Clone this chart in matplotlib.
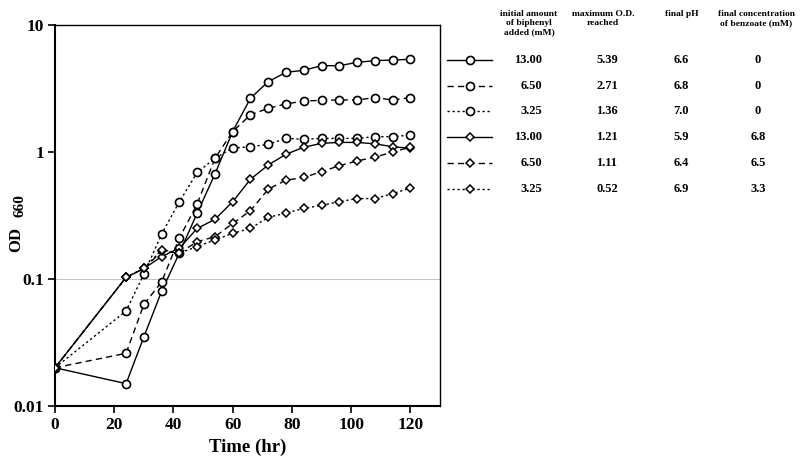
import matplotlib
matplotlib.use("Agg")
import matplotlib.pyplot as plt
from matplotlib.lines import Line2D

# ---------------- data ----------------
times = [0, 24, 30, 36, 42, 48, 54, 60, 66, 72, 78, 84, 90, 96, 102, 108, 114, 120]

circ_1300 = [0.020, 0.015, 0.035, 0.080, 0.16, 0.33, 0.67, 1.45, 2.65, 3.58, 4.24, 4.40,
             4.78, 4.78, 5.08, 5.24, 5.30, 5.37]
circ_650 = [0.020, 0.026, 0.063, 0.095, 0.21, 0.39, 0.89, 1.45, 1.96, 2.21, 2.39, 2.52,
            2.55, 2.57, 2.57, 2.68, 2.57, 2.68]
circ_325 = [0.020, 0.056, 0.109, 0.226, 0.406, 0.69, 0.89, 1.075, 1.10, 1.15, 1.28, 1.26,
            1.28, 1.28, 1.28, 1.32, 1.32, 1.36]
diam_1300 = [0.020, 0.103, 0.121, 0.150, 0.175, 0.25, 0.295, 0.406, 0.61, 0.79, 0.96, 1.09,
             1.17, 1.19, 1.19, 1.16, 1.10, 1.07]
diam_650 = [0.020, 0.103, 0.121, 0.165, 0.160, 0.197, 0.215, 0.274, 0.345, 0.51, 0.60, 0.63,
            0.70, 0.78, 0.85, 0.91, 1.00, 1.09]
diam_325 = [0.020, 0.103, 0.121, 0.170, 0.160, 0.180, 0.203, 0.229, 0.25, 0.306, 0.33, 0.36,
            0.38, 0.406, 0.43, 0.43, 0.47, 0.52]

x_ticks = [0, 20, 40, 60, 80, 100, 120]
y_ticks = [0.01, 0.1, 1, 10]
y_tick_labels = ["0.01", "0.1", "1", "10"]

col_headers = ["initial amount\nof biphenyl\nadded (mM)", "maximum O.D.\nreached",
               "final pH", "final concentration\nof benzoate (mM)"]
tab_biphenyl = ["13.00", "6.50", "3.25", "13.00", "6.50", "3.25"]
tab_maxod = ["5.39", "2.71", "1.36", "1.21", "1.11", "0.52"]
tab_ph = ["6.6", "6.8", "7.0", "5.9", "6.4", "6.9"]
tab_benzoate = ["0", "0", "0", "6.8", "6.5", "3.3"]

# ---------------- styles ----------------
dash_long = (0, (4.5, 3))
dash_dot = (0, (1.6, 2.0))
series = [
    (circ_1300, "o", "-"),
    (circ_650, "o", dash_long),
    (circ_325, "o", dash_dot),
    (diam_1300, "D", "-"),
    (diam_650, "D", dash_long),
    (diam_325, "D", dash_dot),
]
LW = 1.0

SERIF = ["Liberation Serif", "DejaVu Serif"]
plt.rcParams["font.family"] = SERIF

fig = plt.figure(figsize=(8.0, 4.65), dpi=100)
ax = fig.add_axes([55 / 800, 1 - 406 / 465, (440 - 55) / 800, (406 - 25) / 465])

def mstyle(marker):
    if marker == "o":
        return dict(marker="o", markersize=5.8, markeredgewidth=1.2)
    return dict(marker="D", markersize=3.8, markeredgewidth=1.1)

for vals, mk, ls in series:
    ax.plot(times, vals, color="black", linestyle=ls, linewidth=LW,
            markerfacecolor="white", markeredgecolor="black", zorder=3, **mstyle(mk))

ax.axhline(0.1, color="#c4c4c4", linewidth=0.8, zorder=1)

ax.set_yscale("log")
ax.set_xlim(0, 130)
ax.set_ylim(0.01, 10)
ax.set_xticks(x_ticks)
ax.set_xticklabels([str(v) for v in x_ticks])
ax.set_yticks(y_ticks)
ax.set_yticklabels(y_tick_labels)
ax.minorticks_off()
ax.tick_params(axis="both", direction="out", length=5, width=1.2, labelsize=12.5,
               top=False, right=False, pad=3)
for lab in ax.get_xticklabels() + ax.get_yticklabels():
    lab.set_fontweight("bold")
for side in ["left", "bottom"]:
    ax.spines[side].set_linewidth(1.5)
for side in ["top", "right"]:
    ax.spines[side].set_linewidth(1.0)

ax.set_xlabel("Time (hr)", fontsize=13.5, fontweight="bold", labelpad=4)

# y label "OD660" with subscript, drawn as two rotated texts
fig.text(16 / 800, 1 - 239 / 465, "OD", rotation=90, fontsize=12, fontweight="bold",
         ha="center", va="center")
fig.text(20 / 800, 1 - 206 / 465, "660", rotation=90, fontsize=11, fontweight="bold",
         ha="center", va="center")

# ---------------- table legend ----------------
tab = fig.add_axes([0, 0, 1, 1])
tab.set_xlim(0, 800)
tab.set_ylim(465, 0)
tab.axis("off")

head_y = 10
head_kw = dict(fontsize=6.8, fontweight="bold", va="top", ha="center", linespacing=1.2)
tab.text(529, head_y, col_headers[0], **head_kw)
tab.text(603, head_y, col_headers[1], **head_kw)
tab.text(682, head_y, col_headers[2], **head_kw)
tab.text(756, head_y, col_headers[3], **head_kw)

row_y = [60, 86, 111, 137, 163, 189]
cell_kw = dict(fontsize=9, fontweight="bold", va="center")
for i, (vals, mk, ls) in enumerate(series):
    y = row_y[i]
    tab.add_line(Line2D([447, 492], [y, y], color="black", linestyle=ls, linewidth=LW))
    tab.plot([470], [y], color="black", markerfacecolor="white",
             markeredgecolor="black", linestyle="none", **mstyle(mk))
    tab.text(542, y, tab_biphenyl[i], ha="right", **cell_kw)
    tab.text(607, y, tab_maxod[i], ha="center", **cell_kw)
    tab.text(681, y, tab_ph[i], ha="center", **cell_kw)
    tab.text(758, y, tab_benzoate[i], ha="center", **cell_kw)

fig.savefig("out.png", dpi=100)
